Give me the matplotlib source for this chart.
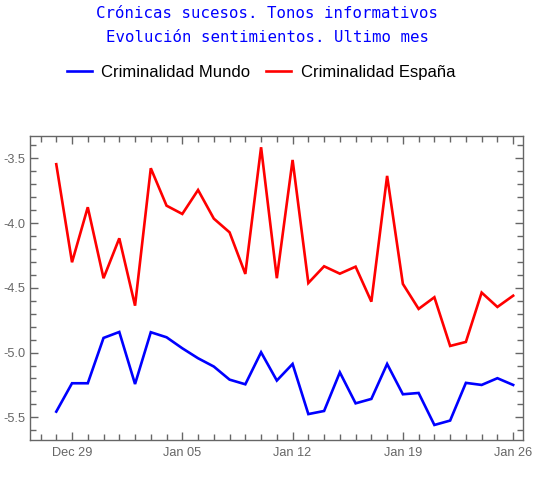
import matplotlib
matplotlib.use("Agg")
import matplotlib.pyplot as plt
import matplotlib.dates as mdates
from matplotlib.ticker import MultipleLocator, FuncFormatter
import numpy as np
import datetime as dt

start = dt.date(2025, 12, 28)
dates = [start + dt.timedelta(days=i) for i in range(30)]

mundo = [-5.456, -5.237, -5.237, -4.887, -4.841, -5.243, -4.843, -4.882, -4.967, -5.044,
         -5.108, -5.209, -5.245, -4.998, -5.216, -5.088, -5.475, -5.451, -5.153, -5.392,
         -5.358, -5.088, -5.322, -5.312, -5.559, -5.525, -5.234, -5.250, -5.198, -5.250]
espana = [-3.546, -4.303, -3.878, -4.426, -4.118, -4.638, -3.577, -3.866, -3.930, -3.745,
          -3.966, -4.072, -4.393, -3.415, -4.426, -3.513, -4.463, -4.334, -4.391, -4.337,
          -4.607, -3.636, -4.470, -4.663, -4.573, -4.949, -4.918, -4.537, -4.648, -4.561]

series_labels = ["Criminalidad Mundo", "Criminalidad España"]
title_lines = ["Crónicas sucesos. Tonos informativos", "Evolución sentimientos. Ultimo mes"]

fig = plt.figure(figsize=(5.34, 4.97), dpi=100)
ax = fig.add_axes([0.0562, 0.1147, 0.9794 - 0.0562, 0.7264 - 0.1147])

gray = "#666666"
l1, = ax.plot(dates, mundo, color=(0, 0, 1), lw=1.9, solid_joinstyle="miter")
l2, = ax.plot(dates, espana, color=(1, 0, 0), lw=1.9, solid_joinstyle="miter")

x0 = mdates.date2num(dt.datetime(2025, 12, 26, 8))
x1 = mdates.date2num(dt.datetime(2026, 1, 26, 15))
ax.set_xlim(x0, x1)
ax.set_ylim(-5.675, -3.328)

ax.xaxis.set_major_locator(mdates.WeekdayLocator(byweekday=mdates.MO))
ax.xaxis.set_minor_locator(mdates.DayLocator())
ax.xaxis.set_major_formatter(mdates.DateFormatter("%b %d"))
ax.yaxis.set_major_locator(MultipleLocator(0.5))
ax.yaxis.set_minor_locator(MultipleLocator(0.1))
ax.yaxis.set_major_formatter(FuncFormatter(lambda v, p: "%.1f" % v))

for s in ax.spines.values():
    s.set_color(gray)
    s.set_linewidth(1.0)
ax.tick_params(which="both", direction="in", top=True, right=True, color=gray,
               labelcolor=gray, labelsize=9.2)
ax.tick_params(which="major", length=6, width=1)
ax.tick_params(which="minor", length=4, width=1)
ax.tick_params(axis="y", which="major", pad=3.5)
ax.tick_params(axis="x", which="major", pad=5)
for lab in ax.get_xticklabels() + ax.get_yticklabels():
    lab.set_fontfamily("Liberation Sans")

fig.text(0.5, 1 - 13 / 497, title_lines[0], ha="center", va="center", color="#0000ff",
         family="DejaVu Sans Mono", fontsize=11.3)
fig.text(0.5, 1 - 38 / 497, title_lines[1], ha="center", va="center", color="#0000ff",
         family="DejaVu Sans Mono", fontsize=11.3)

fig.legend([l1, l2], series_labels, loc="center", bbox_to_anchor=(0.489, 1 - 72 / 497),
           ncol=2, frameon=False, prop={"family": "Liberation Sans", "size": 12},
           handlelength=1.5, handletextpad=0.55, columnspacing=0.95)

fig.savefig("out.png", dpi=100)
